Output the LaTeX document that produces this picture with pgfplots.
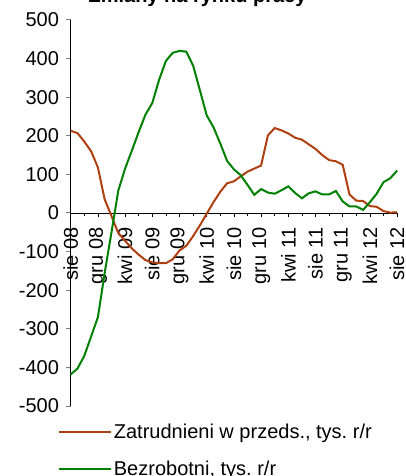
\documentclass[border=0pt]{standalone}
\usepackage{fontspec}
\setmainfont{Liberation Sans}
\usepackage{pgfplots}
\usepackage{pgfplotstable}
\pgfplotsset{compat=1.18}
\definecolor{zbrown}{RGB}{176,64,16}
\definecolor{zgreen}{RGB}{0,128,0}
\pgfplotstableread{
i zat bez
0 213 -418
1 207 -403
2 185 -370
3 160 -320
4 118 -270
5 35 -155
6 -8 -50
7 -52 58
8 -72 115
9 -92 162
10 -108 210
11 -122 255
12 -128 285
13 -130 345
14 -130 394
15 -120 415
16 -97 420
17 -85 418
18 -60 382
19 -32 318
20 -2 253
21 28 222
22 55 180
23 77 135
24 82 113
25 95 98
26 107 73
27 115 47
28 123 62
29 201 53
30 220 50
31 214 59
32 206 69
33 195 52
34 190 38
35 178 51
36 166 56
37 150 48
38 137 48
39 134 57
40 125 30
41 48 17
42 32 17
43 31 8
44 18 28
45 16 50
46 5 80
47 1 90
48 2 110
}\data
\newcommand{\bigfont}{\fontsize{20}{24}\selectfont}
\frenchspacing
\begin{document}
\frenchspacing
\begin{tikzpicture}
\begin{axis}[
  scale only axis, width=326.4pt, height=386pt,
  xmin=0, xmax=48, ymin=-500, ymax=500,
  clip=false,
  axis x line=middle, axis y line=left,
  axis line style={black, line width=0.8pt, -},
  hide obscured x ticks=false, hide obscured y ticks=false,
  ytick={-500,-400,...,500},
  xtick={0,4,...,48},
  xticklabels={sie 08,gru 08,kwi 09,sie 09,gru 09,kwi 10,sie 10,gru 10,kwi 11,sie 11,gru 11,kwi 12,sie 12},
  minor xtick={2,6,...,46},
  tick align=outside,
  xtick style={black, line width=0.6pt},
  ytick style={gray, line width=1pt},
  x axis/.append style={major tick length=5pt, minor tick length=5pt},
  y axis/.append style={major tick length=7.5pt},
  tick label style={font=\bigfont},
  yticklabel style={/pgf/number format/assume math mode=true, xshift=-4pt},
  xticklabel style={rotate=90, anchor=east, inner sep=0pt, xshift=-10pt, yshift=0pt},
  legend style={at={(axis description cs:0,0)}, anchor=north west, draw=none, fill=none,
    font=\bigfont, xshift=-16pt, yshift=-14pt, row sep=17pt},
  legend cell align=left,
  legend image code/.code={\draw[#1] (0pt,0pt) -- (52pt,0pt);},
]
\addplot[zbrown, line width=2pt] table[x=i, y=zat] {\data};
\addlegendentry{Zatrudnieni w przeds., tys. r/r}
\addplot[zgreen, line width=2pt] table[x=i, y=bez] {\data};
\addlegendentry{Bezrobotni, tys. r/r}
\end{axis}
\node[anchor=base, font=\bfseries\bigfont] at (126.8pt,403pt) {Zmiany na rynku pracy};
\pgfresetboundingbox
\useasboundingbox (-70.7pt,-70pt) rectangle (335.3pt,406pt);
\end{tikzpicture}
\end{document}
